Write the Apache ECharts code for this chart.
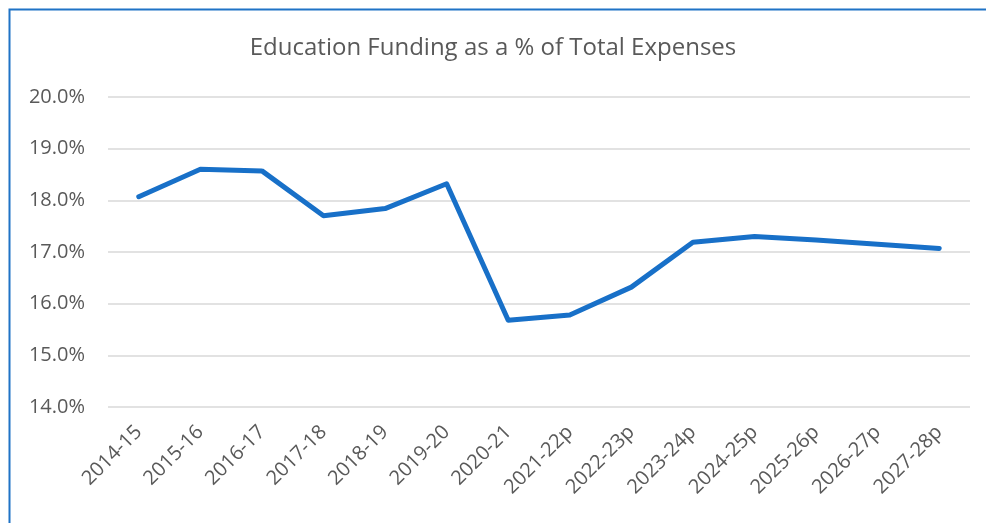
<!DOCTYPE html>
<html><head><meta charset="utf-8">
<script src="https://cdn.jsdelivr.net/npm/echarts@6/dist/echarts.min.js"></script>
<style>html,body{margin:0;padding:0;background:#fff}#c{width:986px;height:523px}</style>
</head><body><div id="c"></div>
<script>
const categories = ['2014-15','2015-16','2016-17','2017-18','2018-19','2019-20','2020-21','2021-22p','2022-23p','2023-24p','2024-25p','2025-26p','2026-27p','2027-28p'];
const values = [18.07, 18.60, 18.57, 17.70, 17.84, 18.32, 15.68, 15.78, 16.32, 17.19, 17.30, 17.23, 17.15, 17.07];
const yTicks = [14, 15, 16, 17, 18, 19, 20];
const titleText = 'Education Funding as a % of Total Expenses';
const FONT = '"Open Sans", sans-serif';
const chart = echarts.init(document.getElementById('c'), null, {renderer:'canvas'});
chart.setOption({
  animation:false,
  backgroundColor:'#fff',
  graphic:[{type:'rect', shape:{x:9.5,y:9.5,width:1100,height:1000}, style:{fill:'none', stroke:'#1f73c6', lineWidth:2}, silent:true}],
  title:{text:titleText, left:'center', top:31, textStyle:{fontFamily:FONT, fontSize:24, fontWeight:'normal', color:'#595959'}},
  grid:{left:108, right:16, top:97, bottom:116, containLabel:false},
  xAxis:{type:'category', data:categories, boundaryGap:true,
    axisLine:{show:false}, axisTick:{show:false},
    axisLabel:{rotate:45, interval:0, margin:22, fontFamily:FONT, fontSize:20, color:'#595959'}},
  yAxis:{type:'value', min:yTicks[0], max:yTicks[yTicks.length-1], interval:1,
    axisLine:{show:false}, axisTick:{show:false},
    splitLine:{lineStyle:{color:'#d9d9d9', width:1.5}},
    axisLabel:{margin:23, fontFamily:FONT, fontSize:20, color:'#595959', formatter:v=>v.toFixed(1)+'%'}},
  series:[{type:'line', data:values, symbol:'none', lineStyle:{color:'#1870c8', width:5, cap:'round', join:'round'}}]
});
</script></body></html>
